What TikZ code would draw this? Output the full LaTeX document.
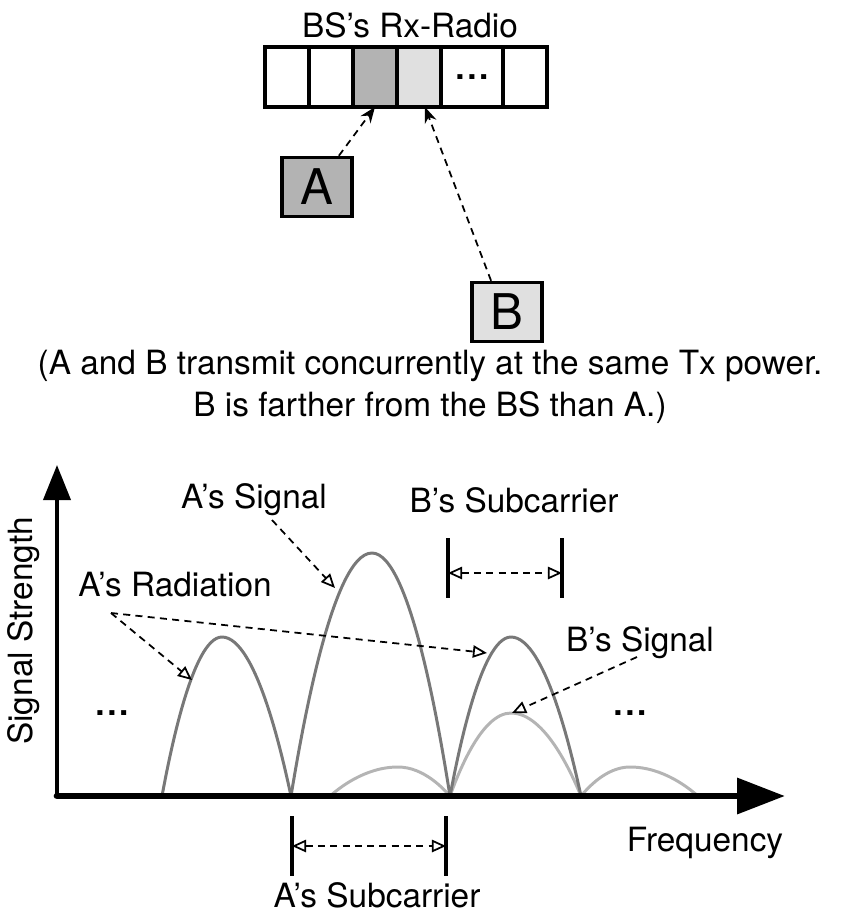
\documentclass[tikz,border=0pt]{standalone}
\usepackage{fontspec}
\setmainfont{TeX Gyre Heros}
\usepackage{xcolor}
\usepackage{tikz}
\usetikzlibrary{arrows.meta, positioning}

\definecolor{fillA}{HTML}{B3B3B3}
\definecolor{fillB}{HTML}{E0E0E0}
\definecolor{lobedark}{HTML}{787878}
\definecolor{lobelight}{HTML}{B4B4B4}

\begin{document}
\begin{tikzpicture}[x=0.02cm, y=-0.02cm]
	% Styles
	\tikzstyle{txt} = [font=\fontsize{19}{22}\selectfont, inner sep=0pt]
	\tikzstyle{cell} = [draw, line width=2.2pt, minimum width=0.88cm, minimum height=1.2cm, outer sep=0pt, inner sep=0pt, font=\fontsize{19}{22}\selectfont\bfseries]
	\tikzstyle{dev} = [draw, line width=2pt, minimum width=1.4cm, minimum height=1.18cm, inner sep=0pt, font=\fontsize{28}{32}\selectfont]
	\tikzstyle{link} = [line width=1pt, dash pattern=on 4pt off 3pt, -{Stealth[length=9pt, width=7pt]}]
	\tikzstyle{pointer} = [line width=1pt, dash pattern=on 4pt off 3pt, -{Triangle[open, length=8pt, width=7pt]}]
	\tikzstyle{span} = [line width=1pt, dash pattern=on 4pt off 3pt, {Triangle[open, length=8pt, width=7pt]}-{Triangle[open, length=8pt, width=7pt]}]
	\tikzstyle{bar} = [line width=1.9pt]
	\tikzstyle{lobe} = [line width=1.7pt, lobedark]
	\tikzstyle{sidelobe} = [line width=1.7pt, lobelight]

	\useasboundingbox (0,0) rectangle (844,914);

	% Nodes
	\node (title) [txt] at (410,25) {BS's Rx-Radio};
	\node (c1) [cell, anchor=west] at (265,77) {};
	\node (c2) [cell, right=0pt of c1] {};
	\node (c3) [cell, right=0pt of c2, fill=fillA] {};
	\node (c4) [cell, right=0pt of c3, fill=fillB] {};
	\node (c5) [cell, right=0pt of c4, minimum width=1.24cm] {.\kern1.5pt.\kern1.5pt.};
	\node (c6) [cell, right=0pt of c5] {};
	\node (A) [dev, fill=fillA] at (317,187) {A};
	\node (B) [dev, fill=fillB] at (507,312) {B};
	\node (note) [txt, align=center, font=\fontsize{19}{24}\selectfont] at (430,387) {(A and B transmit concurrently at the same Tx power.\\ B is farther from the BS than A.)};

	\node (yl) [txt, rotate=90] at (24,631) {Signal Strength};
	\node (xl) [txt] at (705,843) {Frequency};
	\node (sig) [txt] at (254,500) {A's Signal};
	\node (bsub) [txt] at (514,500) {B's Subcarrier};
	\node (rad) [txt] at (175,585) {A's Radiation};
	\node (bsig) [txt] at (640,643) {B's Signal};
	\node (asub) [txt] at (377,895) {A's Subcarrier};
	\node (dotsl) [txt, font=\fontsize{19}{22}\selectfont\bfseries] at (112,713) {.\kern1.5pt.\kern1.5pt.};
	\node (dotsr) [txt, font=\fontsize{19}{22}\selectfont\bfseries] at (630,713) {.\kern1.5pt.\kern1.5pt.};

	% Spectrum
	\coordinate (O) at (57,796);
	\coordinate (z1) at (162,796);
	\coordinate (z2) at (291,796);
	\coordinate (z3) at (450,796);
	\coordinate (z4) at (581,796);
	\draw [sidelobe] (330,796) parabola bend (398,767) (z3);
	\draw [sidelobe] (z3) parabola bend (511,713) (z4);
	\draw [sidelobe] (z4) parabola bend (630,767) (698,796);
	\draw [lobe] (z1) parabola bend (222,637) (z2);
	\draw [lobe] (z2) parabola bend (372,553) (z3);
	\draw [lobe] (z3) parabola bend (511,637) (z4);
	\draw [line width=2.2pt, -{Triangle[length=0.7cm, width=0.54cm]}] (O) -- (57,465);
	\draw [line width=3.8pt, line cap=round, -{Triangle[length=0.96cm, width=0.7cm]}] (O) -- (785,796);

	% Subcarriers
	\draw [bar] (292,816) -- (292,876);
	\draw [bar] (446,816) -- (446,876);
	\draw [bar] (448,538) -- (448,598);
	\draw [bar] (562,538) -- (562,598);
	\coordinate (a1) at (292,846);
	\coordinate (a2) at (446,846);
	\coordinate (b1) at (448,573);
	\coordinate (b2) at (562,573);
	\draw [span] (a1) -- (a2);
	\draw [span] (b1) -- (b2);

	% Connections
	\draw [link] (A.55) -- (c3.south);
	\draw [link] (B.117) -- ([xshift=0.12cm]c4.south);
	\coordinate (sigtail) at (272,520);
	\coordinate (sighead) at (335,588);
	\coordinate (radtail) at (111,613);
	\coordinate (radhead1) at (192,680);
	\coordinate (radhead2) at (487,653);
	\coordinate (bsigtail) at (637,657);
	\coordinate (bsighead) at (512,713);
	\draw [pointer] (sigtail) -- (sighead);
	\draw [pointer] (radtail) -- (radhead1);
	\draw [pointer] (radtail) -- (radhead2);
	\draw [pointer] (bsigtail) -- (bsighead);
\end{tikzpicture}
\end{document}
